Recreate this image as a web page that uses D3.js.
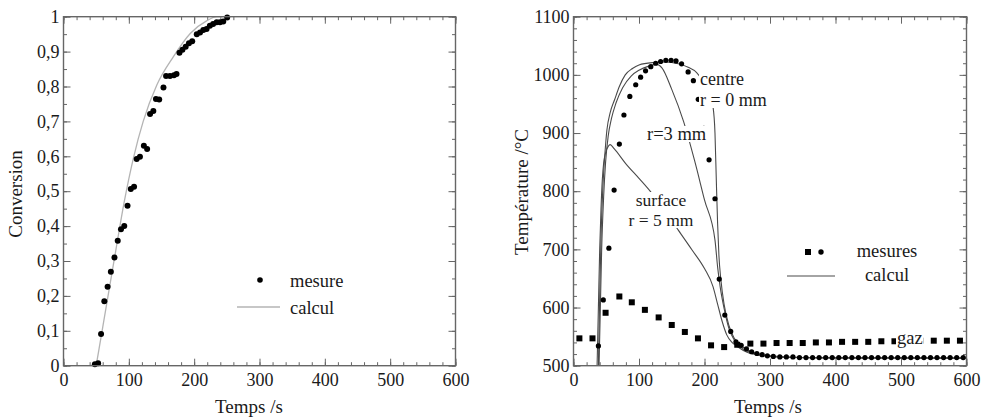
<!DOCTYPE html>
<html>
<head>
<meta charset="utf-8">
<script src="https://cdn.jsdelivr.net/npm/d3@7"></script>
<style>
  body { margin: 0; background: #fff; }
  svg, svg text { font-family: "Liberation Serif", "DejaVu Serif", serif; }
</style>
</head>
<body>
<svg id="chart" width="983" height="419"></svg>
<script>
// ---- Data -------------------------------------------------------------
const timeTicks = [0, 100, 200, 300, 400, 500, 600];
const conversionTicks = [0, 0.1, 0.2, 0.3, 0.4, 0.5, 0.6, 0.7, 0.8, 0.9, 1];
const temperatureTicks = [500, 600, 700, 800, 900, 1000, 1100];

// conversion vs time: measured points [t, X]
const conversionMeasured = [
  [48, 0.004], [53, 0.007], [57.5, 0.091], [62.5, 0.185], [67.5, 0.226], [72.5, 0.269],
  [78, 0.31], [83, 0.358], [88, 0.391], [93, 0.40], [98, 0.458], [103, 0.506],
  [108, 0.513], [112, 0.592], [117, 0.599], [123, 0.630], [128, 0.621], [132.5, 0.721],
  [137.5, 0.73], [141.5, 0.764], [146.5, 0.763], [153, 0.797], [157, 0.830], [163, 0.83],
  [169, 0.832], [173, 0.836], [177.5, 0.897], [182, 0.905], [187, 0.914], [192, 0.924],
  [197, 0.930], [204, 0.950], [209, 0.955], [214, 0.962], [219, 0.965], [224, 0.974],
  [229, 0.979], [234.5, 0.984], [239.5, 0.984], [244.5, 0.986], [250.5, 0.998]
];
// conversion vs time: model
const conversionCalc = [
  [50, 0], [60, 0.11], [70, 0.22], [80, 0.33], [93, 0.47], [107, 0.595], [122, 0.70],
  [143, 0.805], [168, 0.885], [194, 0.952], [219, 0.988], [235, 1.0], [250, 1.0]
];

// temperature vs time: measured at the centre [t, °C]
const tempCentreMeasured = [
  [38, 534], [45.5, 613], [54, 702], [62, 802], [70, 881], [77, 931], [86, 963], [95, 983],
  [102.5, 996], [110, 1007], [118, 1014], [125.5, 1020], [133, 1023], [141, 1025], [149, 1025],
  [156.5, 1024], [165, 1019], [175, 1005], [183, 990], [190.5, 958], [199, 908], [207, 854],
  [216, 787], [222.5, 649], [231, 587], [240, 559], [248, 541], [256, 535], [264, 529],
  [272, 524], [280, 521], [288, 519], [296, 517], [305, 516], [315, 515], [325, 515],
  [335, 515], [345, 514], [355, 514], [365, 514], [375, 514], [385, 514], [395, 514],
  [405, 514], [415, 514], [425, 514], [435, 514], [445, 514], [455, 514], [465, 514],
  [475, 514], [485, 514], [495, 514], [505, 514], [515, 514], [525, 514], [535, 514],
  [545, 514], [555, 514], [565, 514], [575, 514], [585, 514], [595, 514]
];
// temperature vs time: measured in the gas [t, °C]
const tempGasMeasured = [
  [9, 547], [29, 547], [49, 591], [70, 619], [89, 609], [109, 596], [130, 583], [150, 570],
  [170, 558], [190, 547], [210, 535], [230, 532], [250, 536], [270, 538], [290, 538],
  [310, 539], [330, 539], [350, 539], [370, 540], [390, 540], [410, 541], [430, 541],
  [450, 541], [470, 542], [490, 542], [510, 542], [530, 543], [550, 543], [570, 543], [590, 543]
];
// temperature vs time: model, centre (r = 0 mm)
const tempCentreCalc = [
  [38, 500], [40, 620], [42, 720], [45, 810], [48, 865], [51, 905], [56, 935], [63, 958],
  [70, 980], [79, 1000], [90, 1011], [100, 1017], [120, 1021], [140, 1022], [160, 1019],
  [175, 1013], [188, 1004], [200, 985], [208, 965], [213, 945], [216, 900], [218, 820],
  [220, 745], [222, 690], [225, 648], [230, 605], [237, 570], [245, 548], [255, 535],
  [270, 525], [300, 517], [350, 514], [600, 513]
];
// temperature vs time: model, r = 3 mm
const tempR3Calc = [
  [39, 500], [41, 600], [43, 700], [46, 790], [49, 850], [53, 895], [58, 925], [65, 952],
  [75, 978], [88, 998], [100, 1008], [115, 1015], [127, 1018], [135, 1012], [150, 975],
  [168, 920], [185, 852], [200, 785], [216, 716], [220, 670], [224, 635], [230, 598],
  [237, 565], [245, 545], [255, 532], [270, 523], [300, 516], [350, 514], [600, 513]
];
// temperature vs time: model, surface (r = 5 mm)
const tempSurfaceCalc = [
  [36, 500], [38, 600], [40, 700], [42, 770], [44, 820], [46, 848], [49, 866], [53, 877],
  [56, 880], [62, 873], [80, 847], [100, 822], [117, 800], [140, 765], [160, 733], [181, 699],
  [200, 667], [213, 636], [220, 606], [227, 576], [234, 553], [242, 540], [250, 533],
  [265, 523], [290, 517], [330, 514], [400, 513], [600, 513]
];

// ---- Drawing ----------------------------------------------------------
const svg = d3.select("#chart");
const frText = d3.formatLocale({ decimal: ",", thousands: " ", grouping: [3], currency: ["", ""] });
const fmtConv = frText.format(".1~f");

const serif = "'Liberation Serif', 'DejaVu Serif', serif";
const frameColor = "#666";
const textColor = "#1a1a1a";
const tickFont = 18;
const titleFont = 19;

function panel(left, top, width, height, yDomain, yTicks, yMinorStep, yFormat) {
  const g = svg.append("g").attr("transform", `translate(${left},${top})`);
  const x = d3.scaleLinear().domain([0, 600]).range([0, width]);
  const y = d3.scaleLinear().domain(yDomain).range([height, 0]);
  const xMinor = d3.range(0, 600.001, 20);
  const yMinor = d3.range(yDomain[0], yDomain[1] + 1e-9, yMinorStep);

  const styleAxis = sel => {
    sel.attr("font-family", null).attr("font-size", null);
    sel.select(".domain").remove();
    sel.selectAll("line").attr("stroke", frameColor).attr("stroke-width", 1);
    sel.selectAll("text").attr("fill", textColor)
      .style("font-family", serif).style("font-size", tickFont + "px");
  };

  // minor ticks on all four sides, pointing inward
  g.append("g").attr("transform", `translate(0,${height})`)
    .call(d3.axisBottom(x).tickValues(xMinor).tickSize(-3.5).tickFormat("")).call(styleAxis);
  g.append("g")
    .call(d3.axisTop(x).tickValues(xMinor).tickSize(-3.5).tickFormat("")).call(styleAxis);
  g.append("g")
    .call(d3.axisLeft(y).tickValues(yMinor).tickSize(-3.5).tickFormat("")).call(styleAxis);
  g.append("g").attr("transform", `translate(${width},0)`)
    .call(d3.axisRight(y).tickValues(yMinor).tickSize(-3.5).tickFormat("")).call(styleAxis);

  // major ticks with labels
  g.append("g").attr("transform", `translate(0,${height})`)
    .call(d3.axisBottom(x).tickValues(timeTicks).tickSize(-7).tickPadding(7.5).tickFormat(d3.format("d")))
    .call(styleAxis);
  g.append("g")
    .call(d3.axisTop(x).tickValues(timeTicks).tickSize(-7).tickFormat("")).call(styleAxis);
  g.append("g")
    .call(d3.axisLeft(y).tickValues(yTicks).tickSize(-7).tickPadding(4).tickFormat(yFormat))
    .call(styleAxis);
  g.append("g").attr("transform", `translate(${width},0)`)
    .call(d3.axisRight(y).tickValues(yTicks).tickSize(-7).tickFormat("")).call(styleAxis);

  return { g, x, y, width, height };
}

function frame(p) {
  p.g.append("rect").attr("width", p.width).attr("height", p.height)
    .attr("fill", "none").attr("stroke", frameColor).attr("stroke-width", 1.4);
}

function label(text, x, y, opts = {}) {
  const t = svg.append("text").attr("x", x).attr("y", y)
    .style("font-family", serif).style("font-size", (opts.size || titleFont) + "px")
    .attr("fill", textColor)
    .attr("text-anchor", opts.anchor || "start").text(text);
  if (opts.rotate) t.attr("transform", `rotate(-90,${x},${y})`);
  return t;
}

// -------- Left panel: conversion --------
const L = panel(63.5, 16.7, 392, 349, [0, 1], conversionTicks, 0.05, fmtConv);
const lineL = d3.line().x(d => L.x(d[0])).y(d => L.y(d[1])).curve(d3.curveMonotoneX);
L.g.append("path").datum(conversionCalc).attr("d", lineL)
  .attr("fill", "none").attr("stroke", "#b4b4b4").attr("stroke-width", 1.3);
L.g.selectAll("circle.m").data(conversionMeasured).join("circle")
  .attr("cx", d => L.x(d[0])).attr("cy", d => L.y(d[1])).attr("r", 3).attr("fill", "#000");
frame(L);

// legend
svg.append("circle").attr("cx", 260).attr("cy", 280).attr("r", 2.8).attr("fill", "#000");
label("mesure", 290, 287, { size: 18.5 });
svg.append("line").attr("x1", 237).attr("x2", 280).attr("y1", 307).attr("y2", 307)
  .attr("stroke", "#b4b4b4").attr("stroke-width", 1.3);
label("calcul", 290, 314, { size: 18.5 });

label("Conversion", 22, 194, { anchor: "middle", rotate: true });
label("Temps /s", 249, 413, { anchor: "middle" });

// -------- Right panel: temperature --------
const R = panel(573.5, 16.7, 393, 349, [500, 1100], temperatureTicks, 20, d3.format("d"));
const lineR = d3.line().x(d => R.x(d[0])).y(d => R.y(d[1])).curve(d3.curveMonotoneX);
svg.append("clipPath").attr("id", "clipR")
  .append("rect").attr("width", 393).attr("height", 349);
const plotR = R.g.append("g").attr("clip-path", "url(#clipR)");
[tempCentreCalc, tempR3Calc, tempSurfaceCalc].forEach(series => {
  plotR.append("path").datum(series).attr("d", lineR)
    .attr("fill", "none").attr("stroke", "#4a4a4a").attr("stroke-width", 1.1);
});
plotR.selectAll("rect.gas").data(tempGasMeasured).join("rect")
  .attr("x", d => R.x(d[0]) - 3).attr("y", d => R.y(d[1]) - 3)
  .attr("width", 6).attr("height", 6).attr("fill", "#000");

// curve annotations, each on a white backing so the curves pass under the words
function annotation(lines, x, y0, step, anchor, size) {
  const grp = R.g.append("g");
  const t = grp.append("text")
    .attr("x", x - 573.5).attr("y", y0 - 16.7)
    .style("font-family", serif).style("font-size", (size || 18.5) + "px")
    .attr("fill", textColor).attr("text-anchor", anchor);
  lines.forEach((s, i) => t.append("tspan")
    .attr("x", x - 573.5).attr("dy", i === 0 ? 0 : step).text(s));
  const b = t.node().getBBox();
  grp.insert("rect", "text").attr("x", b.x - 1).attr("y", b.y + 2)
    .attr("width", b.width + 2).attr("height", b.height - 4).attr("fill", "#fff");
}
annotation(["r=3 mm"], 647, 140, 0, "start");
annotation(["surface", "r = 5 mm"], 661, 206, 20, "middle", 17.5);
annotation(["centre", "r = 0 mm"], 700, 85, 21, "start", 18);
annotation(["gaz"], 897, 344, 0, "start");

plotR.selectAll("circle.c").data(tempCentreMeasured).join("circle")
  .attr("cx", d => R.x(d[0])).attr("cy", d => R.y(d[1])).attr("r", 2.6).attr("fill", "#000");
frame(R);

// legend
svg.append("rect").attr("x", 805).attr("y", 249).attr("width", 6).attr("height", 6).attr("fill", "#000");
svg.append("circle").attr("cx", 821).attr("cy", 252).attr("r", 2.7).attr("fill", "#000");
label("mesures", 887, 257, { anchor: "middle", size: 18.5 });
svg.append("line").attr("x1", 787).attr("x2", 835).attr("y1", 276).attr("y2", 276)
  .attr("stroke", "#4a4a4a").attr("stroke-width", 1.2);
label("calcul", 887, 281, { anchor: "middle", size: 18.5 });

label("Température /°C", 528, 192, { anchor: "middle", rotate: true });
label("Temps /s", 768, 413, { anchor: "middle" });
</script>
</body>
</html>
